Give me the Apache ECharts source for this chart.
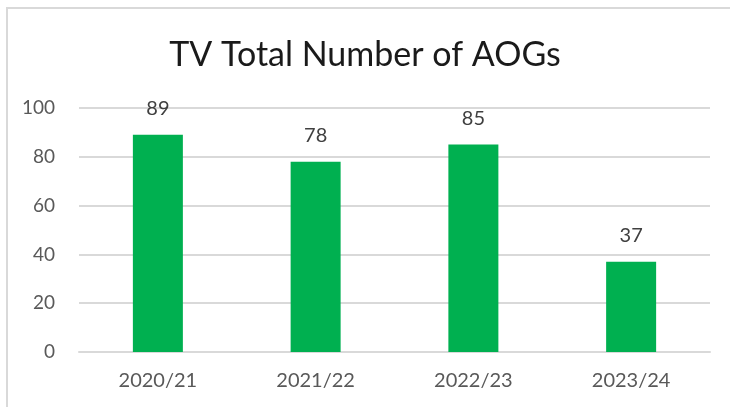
<!DOCTYPE html>
<html>
<head>
<meta charset="utf-8">
<script src="https://cdn.jsdelivr.net/npm/echarts@6/dist/echarts.min.js"></script>
<style>
  html, body { margin: 0; padding: 0; background: #fff; }
  #frame {
    position: absolute; left: 6px; top: 7px; width: 740px; height: 420px;
    border: 2px solid #d9d9d9; box-sizing: border-box;
  }
  #chart { position: absolute; left: 0; top: 0; width: 730px; height: 407px; }
</style>
</head>
<body>
<div id="frame"></div>
<div id="chart"></div>
<script>
// 数据
const seasons = ["2020/21", "2021/22", "2022/23", "2023/24"];
const aogCounts = [89, 78, 85, 37];
const yTicks = { min: 0, max: 100, step: 20 };

const chart = echarts.init(document.getElementById("chart"));
const font = "Lato, 'Open Sans', sans-serif";
const option = {
  title: {
    text: "TV Total Number of AOGs",
    left: "center",
    top: 33,
    textStyle: { fontFamily: font, fontSize: 34, fontWeight: "normal", color: "#1a1a1a" },
  },
  grid: { left: 79, right: 20, top: 108, bottom: 55 },
  xAxis: {
    type: "category",
    data: seasons,
    axisLine: { lineStyle: { color: "#d9d9d9", width: 2 } },
    axisTick: { show: false },
    axisLabel: { color: "#595959", fontFamily: font, fontSize: 20, margin: 19 },
  },
  yAxis: {
    type: "value",
    min: yTicks.min,
    max: yTicks.max,
    interval: yTicks.step,
    axisLine: { show: false },
    axisTick: { show: false },
    splitLine: { lineStyle: { color: "#d9d9d9", width: 2 } },
    axisLabel: { color: "#595959", fontFamily: font, fontSize: 19, margin: 24 },
  },
  series: [
    {
      type: "bar",
      data: aogCounts,
      barWidth: 50,
      itemStyle: { color: "#00b050" },
      label: {
        show: true,
        position: "top",
        distance: 16,
        color: "#404040",
        fontFamily: font,
        fontSize: 20,
      },
    },
  ],
};
chart.setOption(option);
</script>
</body>
</html>
